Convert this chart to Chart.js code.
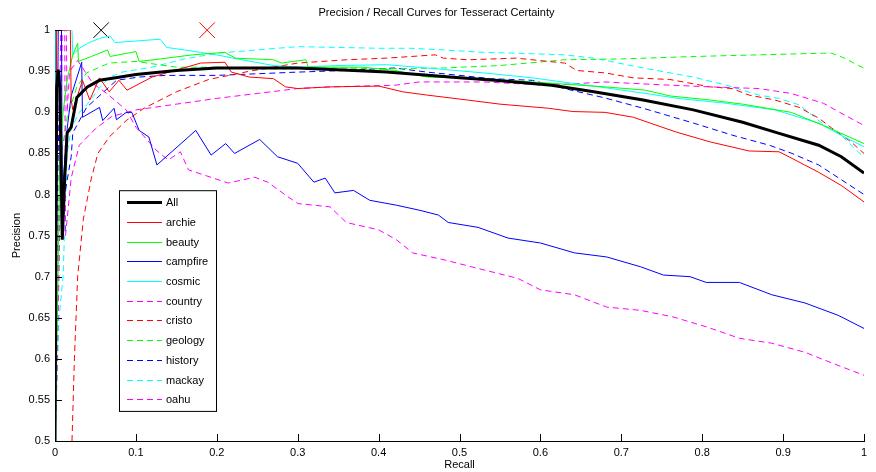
<!DOCTYPE html>
<html>
<head>
<meta charset="utf-8">
<script src="https://cdn.jsdelivr.net/npm/chart.js@4.4.0/dist/chart.umd.min.js"></script>
<style>
  html, body { margin: 0; padding: 0; background: #fff; }
  #wrap { width: 876px; height: 472px; position: relative; }
</style>
</head>
<body>
<div id="wrap"><canvas id="prChart"></canvas></div>
<script>
// Data: recall (x) and precision (y) per book
var allR = [0, 0.002, 0.004, 0.006, 0.009, 0.012, 0.015, 0.02, 0.027, 0.04, 0.055, 0.075, 0.1, 0.15, 0.2, 0.3, 0.41, 0.5, 0.544, 0.614, 0.666, 0.727, 0.789, 0.85, 0.89, 0.944, 0.972, 1.0];
var allP = [0.5, 0.93, 0.952, 0.93, 0.745, 0.82, 0.875, 0.882, 0.918, 0.931, 0.939, 0.942, 0.946, 0.951, 0.954, 0.954, 0.949, 0.942, 0.939, 0.933, 0.925, 0.915, 0.903, 0.888, 0.876, 0.86, 0.846, 0.826];

var archieR = [0, 0.002, 0.019, 0.02, 0.022, 0.034, 0.043, 0.055, 0.067, 0.079, 0.089, 0.12, 0.18, 0.21, 0.218, 0.24, 0.27, 0.285, 0.3, 0.34, 0.4, 0.43, 0.46, 0.51, 0.55, 0.61, 0.64, 0.68, 0.715, 0.768, 0.81, 0.858, 0.895, 0.911, 0.944, 0.972, 1.0];
var archieP = [0.5, 1.0, 1.0, 0.915, 0.903, 0.939, 0.915, 0.942, 0.925, 0.939, 0.927, 0.943, 0.96, 0.961, 0.949, 0.943, 0.941, 0.931, 0.929, 0.931, 0.932, 0.925, 0.921, 0.915, 0.91, 0.905, 0.901, 0.9, 0.894, 0.876, 0.864, 0.853, 0.852, 0.844, 0.827, 0.811, 0.791];

var beautyR = [0, 0.003, 0.006, 0.01, 0.015, 0.022, 0.028, 0.029, 0.045, 0.065, 0.068, 0.1, 0.104, 0.13, 0.17, 0.21, 0.223, 0.27, 0.28, 0.31, 0.313, 0.38, 0.42, 0.45, 0.46, 0.53, 0.59, 0.68, 0.73, 0.76, 0.81, 0.85, 0.91, 0.95, 1.0];
var beautyP = [0.5, 0.65, 0.85, 0.9, 0.94, 0.97, 0.984, 0.962, 0.968, 0.976, 0.968, 0.974, 0.962, 0.965, 0.97, 0.973, 0.966, 0.964, 0.96, 0.964, 0.955, 0.955, 0.951, 0.945, 0.943, 0.941, 0.937, 0.931, 0.927, 0.92, 0.915, 0.91, 0.9, 0.884, 0.862];

var campfireR = [0, 0.004, 0.008, 0.009, 0.015, 0.02, 0.033, 0.034, 0.055, 0.059, 0.073, 0.076, 0.088, 0.095, 0.104, 0.116, 0.126, 0.174, 0.193, 0.211, 0.222, 0.253, 0.275, 0.3, 0.32, 0.334, 0.346, 0.369, 0.389, 0.422, 0.45, 0.474, 0.486, 0.523, 0.56, 0.6, 0.642, 0.682, 0.724, 0.752, 0.785, 0.805, 0.846, 0.886, 0.927, 0.968, 1.0];
var campfireP = [0.5, 1.0, 1.0, 0.8, 0.88, 0.92, 0.961, 0.894, 0.906, 0.89, 0.905, 0.891, 0.9, 0.9, 0.878, 0.87, 0.836, 0.878, 0.848, 0.862, 0.85, 0.867, 0.846, 0.838, 0.815, 0.82, 0.802, 0.805, 0.793, 0.787, 0.781, 0.775, 0.766, 0.76, 0.747, 0.741, 0.729, 0.724, 0.712, 0.702, 0.7, 0.693, 0.693, 0.678, 0.668, 0.653, 0.637];

var cosmicR = [0, 0.001, 0.021, 0.022, 0.03, 0.04, 0.055, 0.068, 0.074, 0.13, 0.138, 0.16, 0.18, 0.205, 0.22, 0.27, 0.3, 0.35, 0.41, 0.46, 0.53, 0.59, 0.68, 0.73, 0.77, 0.83, 0.89, 0.92, 0.944, 0.972, 1.0];
var cosmicP = [0.5, 1.0, 1.0, 0.97, 0.978, 0.984, 0.99, 0.993, 0.985, 0.989, 0.979, 0.976, 0.973, 0.969, 0.966, 0.957, 0.955, 0.957, 0.958, 0.954, 0.948, 0.942, 0.93, 0.923, 0.917, 0.911, 0.903, 0.894, 0.887, 0.872, 0.858];

var countryR = [0, 0.003, 0.007, 0.012, 0.013, 0.02, 0.03, 0.05, 0.07, 0.1, 0.15, 0.2, 0.25, 0.3, 0.34, 0.42, 0.45, 0.53, 0.61, 0.68, 0.74, 0.81, 0.87, 0.91, 0.95, 0.97, 1.0];
var countryP = [0.5, 0.6, 1.0, 1.0, 0.75, 0.82, 0.86, 0.88, 0.895, 0.903, 0.91, 0.917, 0.923, 0.929, 0.931, 0.933, 0.937, 0.937, 0.933, 0.937, 0.934, 0.931, 0.929, 0.923, 0.911, 0.9, 0.884];

var cristoR = [0.021, 0.024, 0.028, 0.035, 0.045, 0.053, 0.067, 0.088, 0.11, 0.15, 0.19, 0.24, 0.3, 0.36, 0.41, 0.47, 0.48, 0.51, 0.57, 0.63, 0.645, 0.68, 0.715, 0.76, 0.81, 0.837, 0.858, 0.89, 0.92, 0.944, 0.96, 0.984, 1.0];
var cristoP = [0.5, 0.6, 0.7, 0.77, 0.82, 0.85, 0.87, 0.89, 0.905, 0.925, 0.94, 0.95, 0.96, 0.964, 0.966, 0.97, 0.966, 0.964, 0.966, 0.96, 0.951, 0.948, 0.942, 0.94, 0.931, 0.929, 0.921, 0.915, 0.906, 0.893, 0.881, 0.864, 0.85];

var geologyR = [0, 0.003, 0.008, 0.015, 0.027, 0.039, 0.067, 0.1, 0.15, 0.2, 0.25, 0.3, 0.35, 0.4, 0.48, 0.55, 0.63, 0.7, 0.79, 0.87, 0.95, 0.96, 0.976, 0.993, 1.0];
var geologyP = [0.5, 0.75, 0.85, 0.894, 0.931, 0.948, 0.96, 0.962, 0.955, 0.955, 0.953, 0.953, 0.954, 0.953, 0.954, 0.957, 0.964, 0.965, 0.968, 0.97, 0.972, 0.972, 0.966, 0.957, 0.954];

var historyR = [0, 0.003, 0.006, 0.008, 0.012, 0.02, 0.022, 0.039, 0.076, 0.104, 0.137, 0.2, 0.3, 0.36, 0.42, 0.46, 0.54, 0.59, 0.638, 0.678, 0.727, 0.789, 0.838, 0.883, 0.911, 0.944, 0.972, 1.0];
var historyP = [0.5, 0.8, 0.95, 0.75, 0.8, 0.846, 0.875, 0.906, 0.939, 0.943, 0.945, 0.945, 0.949, 0.951, 0.954, 0.949, 0.941, 0.939, 0.927, 0.918, 0.905, 0.887, 0.872, 0.86, 0.85, 0.836, 0.818, 0.8];

var mackayR = [0, 0.005, 0.01, 0.015, 0.02, 0.03, 0.04, 0.055, 0.068, 0.083, 0.12, 0.16, 0.2, 0.25, 0.3, 0.4, 0.44, 0.48, 0.53, 0.57, 0.63, 0.666, 0.727, 0.789, 0.83, 0.87, 0.895, 0.92, 0.952, 0.972, 1.0];
var mackayP = [0.5, 0.65, 0.7, 0.85, 0.88, 0.9, 0.91, 0.93, 0.943, 0.949, 0.955, 0.965, 0.972, 0.976, 0.98, 0.978, 0.978, 0.976, 0.973, 0.972, 0.97, 0.966, 0.954, 0.943, 0.933, 0.921, 0.917, 0.909, 0.884, 0.872, 0.845];

var oahuR = [0, 0.005, 0.009, 0.014, 0.015, 0.018, 0.028, 0.047, 0.064, 0.088, 0.1, 0.125, 0.14, 0.155, 0.165, 0.214, 0.247, 0.263, 0.284, 0.3, 0.34, 0.36, 0.4, 0.422, 0.442, 0.483, 0.523, 0.572, 0.6, 0.642, 0.682, 0.724, 0.764, 0.805, 0.846, 0.886, 0.927, 0.968, 1.0];
var oahuP = [0.5, 0.7, 1.0, 1.0, 0.9, 0.95, 0.963, 0.935, 0.923, 0.903, 0.882, 0.854, 0.842, 0.852, 0.83, 0.814, 0.821, 0.815, 0.8, 0.789, 0.785, 0.766, 0.757, 0.745, 0.729, 0.72, 0.71, 0.698, 0.684, 0.678, 0.663, 0.659, 0.651, 0.639, 0.625, 0.619, 0.608, 0.592, 0.58];

// the two "x" markers on the top edge
var markR = [0.057, 0.188];
var markP = [1.0, 1.0];

var xTicks = [0, 0.1, 0.2, 0.3, 0.4, 0.5, 0.6, 0.7, 0.8, 0.9, 1];
var yTicks = [0.5, 0.55, 0.6, 0.65, 0.7, 0.75, 0.8, 0.85, 0.9, 0.95, 1];

var FONT = 'Liberation Sans, Arial, Helvetica, sans-serif';
var DASH = [6, 4];

function pts(rs, ps) {
  var out = [];
  for (var i = 0; i < rs.length; i++) out.push({ x: rs[i], y: ps[i] });
  return out;
}

// legend entries are drawn from this list (same styles as the datasets)
var legendItems = [];

function line(label, rs, ps, color, dashed, width) {
  legendItems.push({ label: label, color: color, dash: dashed ? DASH : [], width: width || 1 });
  return {
    label: label,
    data: pts(rs, ps),
    borderColor: color,
    backgroundColor: color,
    borderWidth: width || 1,
    borderDash: dashed ? DASH : [],
    pointRadius: 0,
    tension: 0,
    fill: false
  };
}

var datasets = [
  line('All', allR, allP, '#000000', false, 3),
  line('archie', archieR, archieP, '#ff0000', false),
  line('beauty', beautyR, beautyP, '#00ff00', false),
  line('campfire', campfireR, campfireP, '#0000ff', false),
  line('cosmic', cosmicR, cosmicP, '#00ffff', false),
  line('country', countryR, countryP, '#ff00ff', true),
  line('cristo', cristoR, cristoP, '#ff0000', true),
  line('geology', geologyR, geologyP, '#00ff00', true),
  line('history', historyR, historyP, '#0000ff', true),
  line('mackay', mackayR, mackayP, '#00ffff', true),
  line('oahu', oahuR, oahuP, '#ff00ff', true)
];

datasets.push({
  label: 'marks',
  type: 'scatter',
  data: pts(markR, markP),
  pointStyle: 'crossRot',
  pointRadius: 11,
  borderWidth: 1,
  borderColor: ['#000000', '#ff0000'],
  backgroundColor: ['#000000', '#ff0000'],
  showLine: false,
  clip: false
});

function fmt(v) { return String(Math.round(v * 100) / 100); }

// inward tick marks, like the original
var tickPlugin = {
  id: 'inTicks',
  afterDatasetsDraw: function (chart) {
    var ctx = chart.ctx, a = chart.chartArea;
    var xs = chart.scales.x, ys = chart.scales.y;
    ctx.save();
    ctx.strokeStyle = '#000';
    ctx.lineWidth = 1;
    ctx.beginPath();
    for (var i = 0; i < xTicks.length; i++) {
      var px = Math.round(xs.getPixelForValue(xTicks[i])) + 0.5;
      ctx.moveTo(px, a.bottom);
      ctx.lineTo(px, a.bottom - 7);
    }
    for (var j = 0; j < yTicks.length; j++) {
      var py = Math.round(ys.getPixelForValue(yTicks[j])) + 0.5;
      ctx.moveTo(a.left, py);
      ctx.lineTo(a.left + 7, py);
    }
    ctx.stroke();
    ctx.restore();
  }
};

// boxed legend inside the axes
var legendPlugin = {
  id: 'boxLegend',
  afterDraw: function (chart) {
    var ctx = chart.ctx, a = chart.chartArea;
    var x0 = a.left + 64, y0 = a.top + 160, w = 97, rowH = 19.7;
    var n = legendItems.length;
    var h = n * rowH + 4;
    ctx.save();
    ctx.fillStyle = '#ffffff';
    ctx.fillRect(x0, y0, w, h);
    ctx.strokeStyle = '#000000';
    ctx.lineWidth = 1;
    ctx.strokeRect(x0 + 0.5, y0 + 0.5, w, h);
    ctx.font = '11px ' + FONT;
    ctx.textBaseline = 'middle';
    for (var i = 0; i < n; i++) {
      var it = legendItems[i];
      var yy = Math.round(y0 + 12 + i * rowH) + 0.5;
      ctx.setLineDash(it.dash);
      ctx.strokeStyle = it.color;
      ctx.lineWidth = it.width;
      ctx.beginPath();
      ctx.moveTo(x0 + 8, yy);
      ctx.lineTo(x0 + 43, yy);
      ctx.stroke();
      ctx.setLineDash([]);
      ctx.fillStyle = '#000000';
      ctx.fillText(it.label, x0 + 47, yy);
    }
    ctx.restore();
  }
};

var ctx = document.getElementById('prChart').getContext('2d');
var prChart = new Chart(ctx, {
  type: 'line',
  data: { datasets: datasets },
  plugins: [tickPlugin, legendPlugin],
  options: {
    responsive: true,
    maintainAspectRatio: false,
    animation: false,
    layout: { padding: { left: 0, right: 3, top: 0, bottom: 0 } },
    plugins: {
      legend: { display: false },
      tooltip: { enabled: false },
      title: {
        display: true,
        text: 'Precision / Recall Curves for Tesseract Certainty',
        color: '#000',
        font: { family: FONT, size: 11, weight: 'normal' },
        padding: { top: 6, bottom: 11 }
      }
    },
    scales: {
      x: {
        type: 'linear',
        min: 0,
        max: 1,
        afterBuildTicks: function (s) { s.ticks = xTicks.map(function (v) { return { value: v }; }); },
        afterFit: function (s) { s.height = 31; },
        grid: { display: false, drawTicks: false },
        border: { display: true, color: '#000', width: 1 },
        ticks: { color: '#000', font: { family: FONT, size: 11 }, padding: 5, maxRotation: 0, callback: fmt },
        title: { display: true, text: 'Recall', color: '#000', font: { family: FONT, size: 11 }, padding: { top: 0, bottom: 0 } }
      },
      y: {
        type: 'linear',
        min: 0.5,
        max: 1,
        afterBuildTicks: function (s) { s.ticks = yTicks.map(function (v) { return { value: v }; }); },
        afterFit: function (s) { s.width = 55; },
        grid: { display: false, drawTicks: false },
        border: { display: true, color: '#000', width: 1 },
        ticks: { color: '#000', font: { family: FONT, size: 11 }, padding: 5, callback: fmt },
        title: { display: true, text: 'Precision', color: '#000', font: { family: FONT, size: 11 }, padding: { top: 10, bottom: 0 } }
      }
    }
  }
});
</script>
</body>
</html>
